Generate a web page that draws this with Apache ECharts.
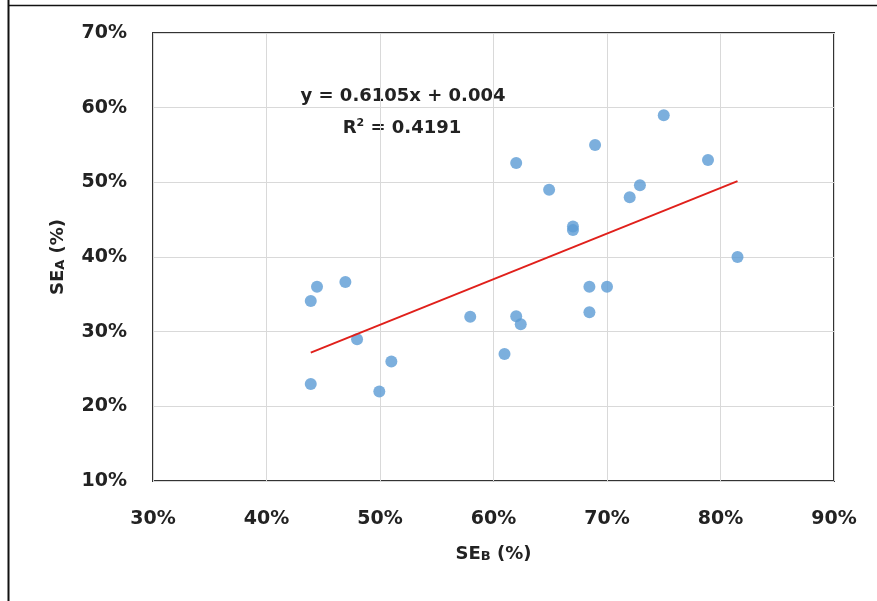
<!DOCTYPE html>
<html>
<head>
<meta charset="utf-8">
<script src="https://cdn.jsdelivr.net/npm/echarts@6/dist/echarts.min.js"></script>
<style>
  html, body { margin: 0; padding: 0; background: #fff; }
  #chart { width: 877px; height: 601px; }
</style>
</head>
<body>
<div id="chart"></div>
<script>
// SE_B (x, %) and SE_A (y, %) per observation
const seB = [44.45, 43.9, 46.95, 47.98, 43.9, 49.94, 51.0, 57.95, 60.97, 62.0, 62.4, 62.0,
             64.9, 68.95, 75.0, 78.9, 72.9, 72.0, 67.0, 67.0, 81.5, 68.45, 70.0, 68.45];
const seA = [36.0, 34.1, 36.65, 29.0, 23.0, 22.0, 26.0, 32.0, 27.0, 32.05, 31.0, 52.6,
             49.0, 55.0, 59.0, 53.0, 49.6, 48.0, 44.1, 43.6, 40.0, 36.0, 36.0, 32.6];

// Linear trend: y = 0.6105x + 0.004 (fractions)
const slope = 0.6105;
const intercept = 0.004;
const rSquared = 0.4191;

const xTicks = [30, 40, 50, 60, 70, 80, 90];
const yTicks = [10, 20, 30, 40, 50, 60, 70];

const points = seB.map((x, i) => [x, seA[i]]);
const xMinData = Math.min(...seB);
const xMaxData = Math.max(...seB);
const trend = [xMinData, xMaxData].map(x => [x, (slope * x / 100 + intercept) * 100]);

const font = '"DejaVu Sans", "Open Sans", sans-serif';
const ink = '#222';

const chart = echarts.init(document.getElementById('chart'));
chart.setOption({
  animation: false,
  backgroundColor: '#fff',
  grid: {
    left: 153, top: 33, width: 681, height: 448,
    show: true, borderColor: '#333', borderWidth: 2
  },
  xAxis: {
    type: 'value',
    min: xTicks[0], max: xTicks[xTicks.length - 1], interval: 10,
    axisLine: { show: false },
    axisTick: { show: false },
    splitLine: { show: true, lineStyle: { color: '#d9d9d9', width: 1 } },
    axisLabel: {
      formatter: v => v + '%', margin: 29,
      color: ink, fontFamily: font, fontWeight: 'bold', fontSize: 19
    },
    name: '{a|SE}{b|B}{a| (%)}',
    nameLocation: 'middle', nameGap: 64,
    nameTextStyle: {
      rich: {
        a: { fontFamily: font, fontWeight: 'bold', fontSize: 18, color: ink },
        b: { fontFamily: font, fontWeight: 'bold', fontSize: 13, color: ink, padding: [5, 0, 0, 0] }
      }
    }
  },
  yAxis: {
    type: 'value',
    min: yTicks[0], max: yTicks[yTicks.length - 1], interval: 10,
    axisLine: { show: false },
    axisTick: { show: false },
    splitLine: { show: true, lineStyle: { color: '#d9d9d9', width: 1 } },
    axisLabel: {
      formatter: v => v + '%', margin: 26,
      color: ink, fontFamily: font, fontWeight: 'bold', fontSize: 19
    },
    name: '{a|SE}{b|A}{a| (%)}',
    nameLocation: 'middle', nameGap: 86,
    nameTextStyle: {
      rich: {
        a: { fontFamily: font, fontWeight: 'bold', fontSize: 18, color: ink },
        b: { fontFamily: font, fontWeight: 'bold', fontSize: 13, color: ink, padding: [5, 0, 0, 0] }
      }
    }
  },
  series: [
    {
      type: 'scatter',
      data: points,
      symbol: 'circle',
      symbolSize: 12,
      itemStyle: { color: '#5b9bd5' },
      z: 3
    },
    {
      type: 'line',
      data: trend,
      symbol: 'none',
      lineStyle: { color: '#e0201b', width: 2 },
      z: 4
    }
  ],
  graphic: [
    {
      type: 'line',
      shape: { x1: 8.5, y1: 0, x2: 8.5, y2: 601 },
      style: { stroke: '#111', lineWidth: 2 }
    },
    {
      type: 'line',
      shape: { x1: 8, y1: 5.5, x2: 877, y2: 5.5 },
      style: { stroke: '#111', lineWidth: 1.5 }
    },
    {
      type: 'text',
      x: 403, y: 96,
      style: {
        text: 'y = ' + slope + 'x + ' + intercept,
        align: 'center', verticalAlign: 'middle',
        font: 'bold 18px ' + font, fill: ink
      }
    },
    {
      type: 'text',
      x: 402, y: 128,
      style: {
        text: '{r|R}{s|2}{r| = ' + rSquared + '}',
        align: 'center', verticalAlign: 'middle',
        rich: {
          r: { fontFamily: font, fontWeight: 'bold', fontSize: 18, fill: ink },
          s: { fontFamily: font, fontWeight: 'bold', fontSize: 11, fill: ink, padding: [0, 0, 10, 0] }
        }
      }
    }
  ]
});
</script>
</body>
</html>
